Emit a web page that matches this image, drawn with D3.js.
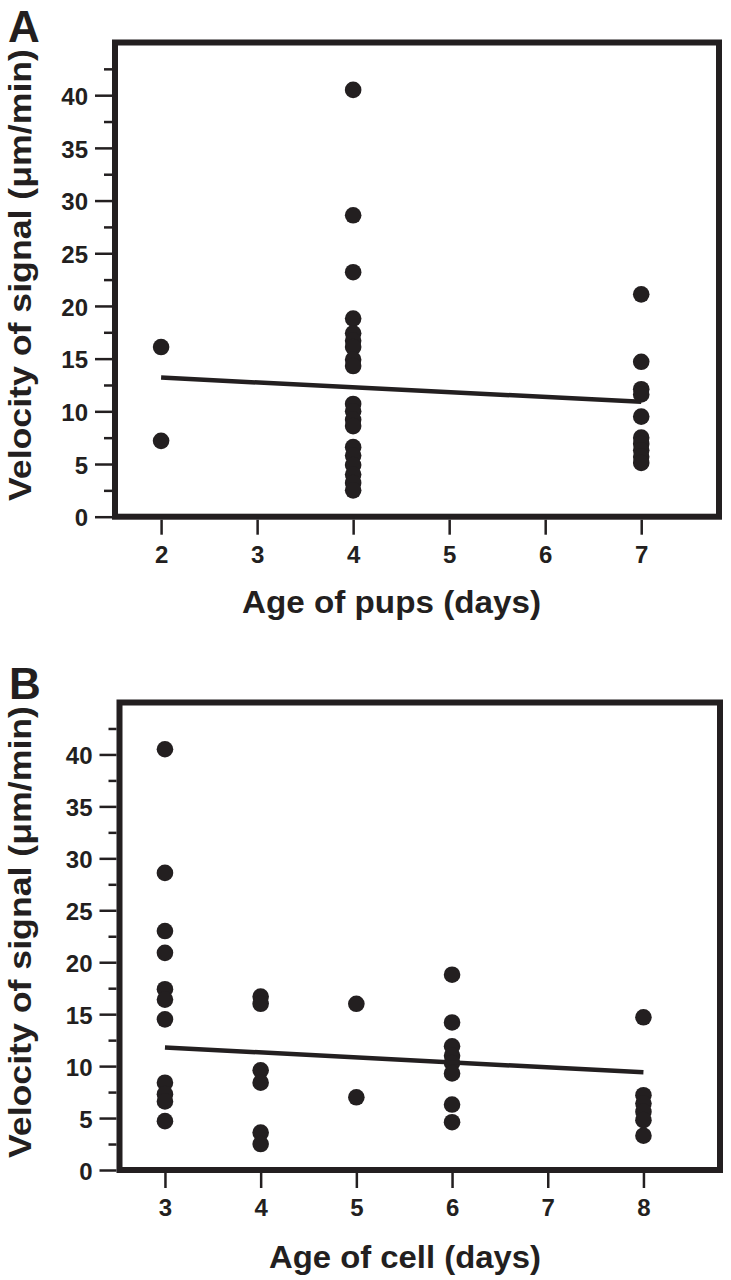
<!DOCTYPE html>
<html>
<head>
<meta charset="utf-8">
<script src="https://cdn.jsdelivr.net/npm/d3@7"></script>
<style>
  html, body { margin: 0; padding: 0; background: #fff; }
  svg { display: block; }
  text { font-family: "Liberation Sans", Arial, sans-serif; font-weight: bold; fill: #231f20; }
</style>
</head>
<body>
<svg id="chart" width="731" height="1280"></svg>
<script>
// ---- Data ----
const ageA = [2, 2,
  4, 4, 4, 4, 4, 4, 4, 4, 4, 4, 4, 4, 4, 4, 4, 4, 4, 4, 4,
  7, 7, 7, 7, 7, 7, 7, 7, 7, 7];
const velA = [16.1, 7.2,
  40.5, 28.6, 23.2, 18.8, 17.4, 16.7, 16.1, 14.9, 14.3, 10.7, 10.0, 9.2, 8.6, 6.6, 5.8, 4.9, 4.0, 3.2, 2.5,
  21.1, 14.7, 12.1, 11.6, 9.5, 7.5, 6.9, 6.3, 5.7, 5.1];
const fitAx = [2, 7];
const fitAy = [13.2, 10.9];
const xTicksA = [2, 3, 4, 5, 6, 7];

const ageB = [3, 3, 3, 3, 3, 3, 3, 3, 3, 3, 3,
  4, 4, 4, 4, 4, 4,
  5, 5,
  6, 6, 6, 6, 6, 6, 6, 6,
  8, 8, 8, 8, 8, 8];
const velB = [40.5, 28.6, 23.0, 20.9, 17.4, 16.4, 14.5, 8.4, 7.3, 6.6, 4.7,
  16.7, 16.0, 9.6, 8.4, 3.6, 2.5,
  16.0, 7.0,
  18.8, 14.2, 11.9, 11.0, 10.3, 9.3, 6.3, 4.6,
  14.7, 7.2, 6.4, 5.6, 4.8, 3.3];
const fitBx = [3, 8];
const fitBy = [11.8, 9.4];
const xTicksB = [3, 4, 5, 6, 7, 8];

const yTicks = [0, 5, 10, 15, 20, 25, 30, 35, 40];
const yMinorTicks = [2.5, 7.5, 12.5, 17.5, 22.5, 27.5, 32.5, 37.5, 42.5];
const yTitle = "Velocity of signal (\u03bcm/min)";

const INK = "#231f20";
const svg = d3.select("#chart");
svg.append("rect").attr("width", 731).attr("height", 1280).attr("fill", "#fff");

function panel(cfg) {
  const g = svg.append("g");
  const x = d3.scaleLinear().domain(cfg.xDomain).range([cfg.left, cfg.right]);
  const y = d3.scaleLinear().domain([0, 45]).range([cfg.bottom, cfg.top]);
  const fw = 6; // frame stroke

  // minor y ticks
  g.append("g")
    .attr("transform", `translate(${cfg.left - fw / 2},0)`)
    .call(d3.axisLeft(y).tickValues(yMinorTicks).tickSize(8).tickFormat(""))
    .call(a => a.select(".domain").remove())
    .call(a => a.selectAll("line").attr("stroke", INK).attr("stroke-width", 2.5));

  // major y ticks
  g.append("g")
    .attr("transform", `translate(${cfg.left - fw / 2},0)`)
    .call(d3.axisLeft(y).tickValues(yTicks).tickSize(17).tickPadding(7))
    .call(a => a.select(".domain").remove())
    .call(a => a.selectAll("line").attr("stroke", INK).attr("stroke-width", 2.5))
    .call(a => a.selectAll("text").attr("font-size", 24).attr("dy", "0.38em")
      .style("font-family", '"Liberation Sans", Arial, sans-serif').style("font-weight", "bold").attr("fill", INK));

  // x ticks
  g.append("g")
    .attr("transform", `translate(0,${cfg.bottom + fw / 2})`)
    .call(d3.axisBottom(x).tickValues(cfg.xTicks).tickSize(15).tickPadding(11).tickFormat(d3.format("d")))
    .call(a => a.select(".domain").remove())
    .call(a => a.selectAll("line").attr("stroke", INK).attr("stroke-width", 2.5))
    .call(a => a.selectAll("text").attr("font-size", 24)
      .style("font-family", '"Liberation Sans", Arial, sans-serif').style("font-weight", "bold").attr("fill", INK));

  // frame
  g.append("rect")
    .attr("x", cfg.left).attr("y", cfg.top)
    .attr("width", cfg.right - cfg.left).attr("height", cfg.bottom - cfg.top)
    .attr("fill", "none").attr("stroke", INK).attr("stroke-width", fw);

  // points
  g.append("g").selectAll("circle")
    .data(cfg.ages.map((a, i) => ({ a, v: cfg.vels[i] })))
    .join("circle")
    .attr("cx", d => x(d.a)).attr("cy", d => y(d.v))
    .attr("r", 8.3).attr("fill", INK);

  // fit line
  g.append("path")
    .datum(cfg.fitX.map((a, i) => [a, cfg.fitY[i]]))
    .attr("d", d3.line().x(d => x(d[0])).y(d => y(d[1])))
    .attr("stroke", INK).attr("stroke-width", 4.5).attr("fill", "none");

  // axis titles
  g.append("text")
    .attr("x", cfg.xTitleX).attr("y", cfg.xTitleY)
    .attr("text-anchor", "middle").attr("font-size", 31)
    .attr("textLength", cfg.xTitleLen).attr("lengthAdjust", "spacingAndGlyphs")
    .text(cfg.xTitle);

  g.append("text")
    .attr("transform", `translate(${cfg.yTitleX},${cfg.yTitleY}) rotate(-90)`)
    .attr("text-anchor", "middle").attr("font-size", 31)
    .attr("textLength", 452).attr("lengthAdjust", "spacingAndGlyphs")
    .text(yTitle);

  // panel letter
  g.append("text")
    .attr("x", cfg.letterX).attr("y", cfg.letterY)
    .attr("font-size", 44).text(cfg.letter);
}

panel({
  left: 115, right: 719, top: 42.5, bottom: 516.7,
  xDomain: [1.52, 7.81], xTicks: xTicksA,
  ages: ageA, vels: velA, fitX: fitAx, fitY: fitAy,
  xTitle: "Age of pups (days)", xTitleX: 391.5, xTitleY: 613, xTitleLen: 299,
  yTitleX: 31, yTitleY: 275,
  letter: "A", letterX: 8, letterY: 42
});

panel({
  left: 119.5, right: 720, top: 702.5, bottom: 1170,
  xDomain: [2.525, 8.8], xTicks: xTicksB,
  ages: ageB, vels: velB, fitX: fitBx, fitY: fitBy,
  xTitle: "Age of cell (days)", xTitleX: 405, xTitleY: 1268, xTitleLen: 272,
  yTitleX: 31, yTitleY: 932,
  letter: "B", letterX: 9, letterY: 699
});
</script>
</body>
</html>
